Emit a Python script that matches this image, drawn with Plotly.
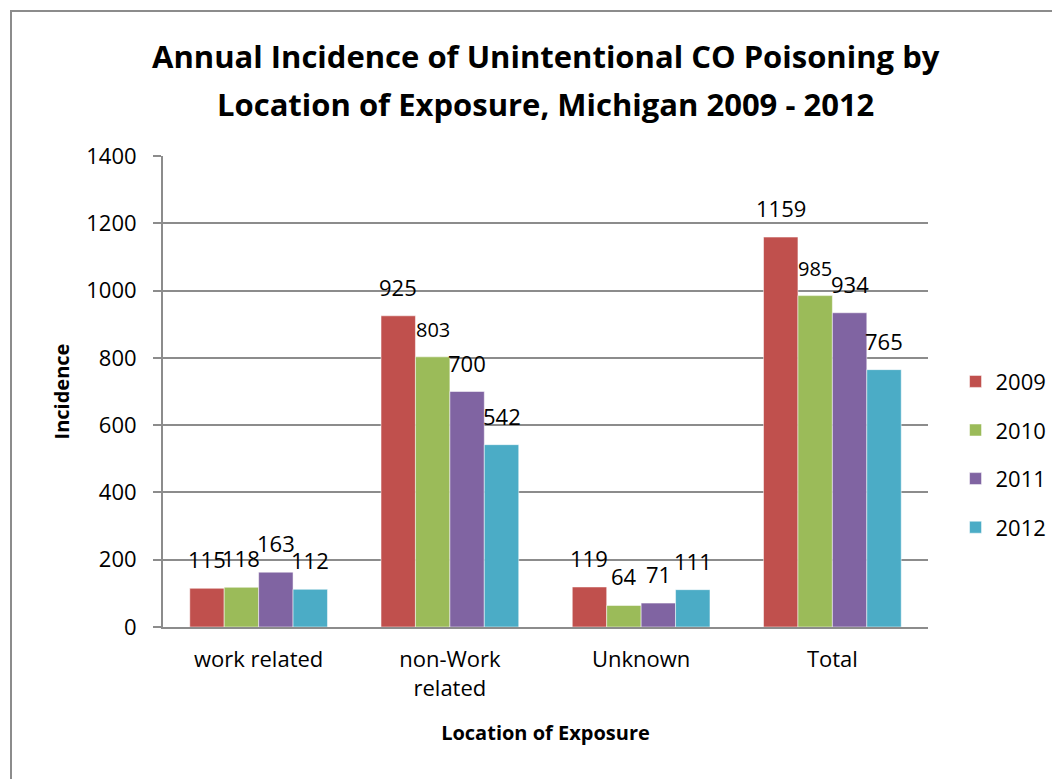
import plotly.graph_objects as go

# data
categories = ["work related", "non-Work<br>related", "Unknown", "Total"]
years = ["2009", "2010", "2011", "2012"]
incidence_2009 = [115, 925, 119, 1159]
incidence_2010 = [118, 803, 64, 985]
incidence_2011 = [163, 700, 71, 934]
incidence_2012 = [112, 542, 111, 765]

series = [incidence_2009, incidence_2010, incidence_2011, incidence_2012]
colors = ["#C0504D", "#9BBB59", "#8064A2", "#4BACC6"]
# the 2010 labels for non-Work related and Total are drawn a bit smaller
label_sizes = [
    [22, 22, 22, 22],
    [22, 20, 22, 20],
    [22, 22, 22, 22],
    [22, 22, 22, 22],
]
title_lines = [
    "Annual Incidence of Unintentional CO Poisoning by",
    "Location of Exposure, Michigan 2009 - 2012",
]

FONT = "'Open Sans', Lato, sans-serif"
BOLD_FONT = "'Open Sans', Lato, sans-serif"
GRID = "#8C8C8C"

# page body adds an 8px margin, so the figure is 8px smaller than the window
W, H = 1052, 771
L, T, R, B = 155, 148, 132, 152
BARGAP = 0.28

fig = go.Figure()
for year, vals, col in zip(years, series, colors):
    fig.add_trace(
        go.Bar(
            x=categories,
            y=vals,
            name=year,
            legendgroup=year,
            marker=dict(color=col, line=dict(color="rgba(255,255,255,0.5)", width=1)),
            hoverinfo="x+y+name",
        )
    )

# value labels floating a bit above each bar (Excel style)
plot_w = W - L - R
plot_h = H - T - B
bar_px = plot_w / len(categories) * (1 - BARGAP) / len(years)
annotations = []
for i, (vals, sizes) in enumerate(zip(series, label_sizes)):
    for cat, v, s in zip(categories, vals, sizes):
        annotations.append(
            dict(
                x=cat,
                y=v,
                xref="x",
                yref="y",
                text=str(v),
                showarrow=False,
                xanchor="center",
                yanchor="bottom",
                xshift=(i - (len(years) - 1) / 2) * bar_px,
                yshift=12,
                font=dict(size=s, family=FONT, color="black"),
            )
        )

# two-line title, spaced a little wider than plotly's default line height
for k, line in enumerate(title_lines):
    annotations.append(
        dict(
            x=0.5,
            y=(plot_h + T - (48 + 48 * k)) / plot_h,
            xref="paper",
            yref="paper",
            text="<b>%s</b>" % line,
            showarrow=False,
            xanchor="center",
            yanchor="middle",
            font=dict(size=31, family=BOLD_FONT, color="black"),
        )
    )

fig.update_layout(
    width=W,
    height=H,
    margin=dict(l=L, r=R, t=T, b=B, autoexpand=False),
    paper_bgcolor="white",
    plot_bgcolor="white",
    font=dict(family=FONT, size=22, color="black"),
    barmode="group",
    bargap=BARGAP,
    bargroupgap=0,
    annotations=annotations,
    legend=dict(
        x=1.036,
        xanchor="left",
        y=0.366,
        yanchor="middle",
        font=dict(size=22, family=FONT),
        tracegroupgap=17,
        bgcolor="rgba(0,0,0,0)",
    ),
    shapes=[
        dict(
            type="rect",
            xref="paper",
            yref="paper",
            x0=-152 / 765,
            x1=1.3,
            y0=-0.5,
            y1=616 / 471,
            line=dict(color="#8C8C8C", width=2),
            fillcolor="rgba(0,0,0,0)",
            layer="below",
        )
    ],
)

fig.update_xaxes(
    showline=True,
    linecolor=GRID,
    linewidth=2,
    ticks="",
    ticklabelstandoff=12,
    tickfont=dict(size=22),
    automargin=False,
    title=dict(
        text="<b>Location of Exposure</b>",
        font=dict(size=20, family=BOLD_FONT),
        standoff=25,
    ),
)
fig.update_yaxes(
    range=[0, 1400],
    dtick=200,
    showgrid=True,
    gridcolor=GRID,
    gridwidth=2,
    showline=True,
    linecolor=GRID,
    linewidth=2,
    ticks="outside",
    ticklen=8,
    tickcolor=GRID,
    tickwidth=2,
    ticklabelstandoff=12,
    tickfont=dict(size=22),
    zeroline=False,
    automargin=False,
    title=dict(
        text="<b>Incidence</b>",
        font=dict(size=20, family=BOLD_FONT),
        standoff=11,
    ),
)

fig.write_html("out.html")
